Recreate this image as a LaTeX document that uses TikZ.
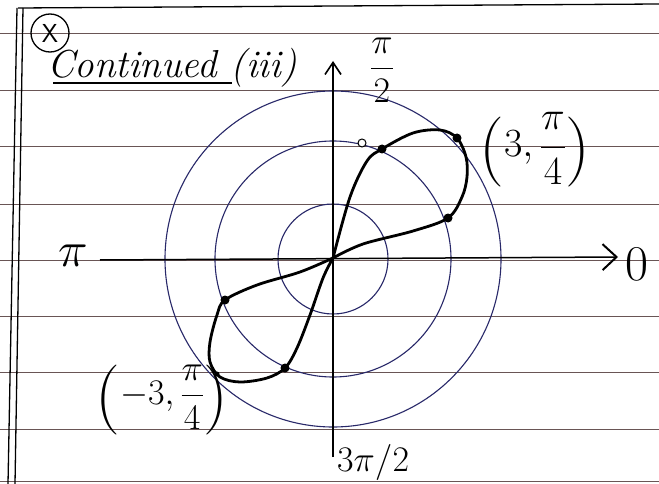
\RequirePackage{fix-cm}
\documentclass[tikz,border=0pt]{standalone}
\usetikzlibrary{arrows.meta}
\definecolor{rulec}{RGB}{105,85,85}
\definecolor{navy}{RGB}{40,40,105}
\newcommand\myparen[1]{\raisebox{-13pt}{\fontsize{70}{70}\selectfont #1}}
\begin{document}
\begin{tikzpicture}[x=1pt,y=-1pt,
  rule/.style={draw=rulec,line width=0.9pt},
  border/.style={draw=black,line width=1.3pt},
  axis/.style={draw=black,line width=1.5pt},
  circ/.style={draw=navy,line width=1.1pt},
  curve/.style={draw=black,line width=2.8pt,line join=round,line cap=round},
  dot/.style={circle,fill=black,inner sep=0pt,minimum size=9pt},
  opendot/.style={circle,draw=black,fill=white,line width=1pt,inner sep=0pt,minimum size=8pt},
  lbl/.style={font=\fontsize{36}{40}\selectfont,inner sep=1pt},
  big/.style={font=\fontsize{50}{54}\selectfont,inner sep=1pt},
  ttl/.style={font=\fontsize{39}{42}\selectfont\itshape,inner sep=0pt}]
\useasboundingbox (0,0) rectangle (659,484);
\fill[white] (0,0) rectangle (659,484);
% ruled paper
\foreach \yy in {33,90,146,204,260,316,372,429,481}
  \draw[rule] (0,\yy) -- (659,\yy);
\draw[border] (18,8) -- (659,4);
\draw[border] (17,8) -- (8,484);
\draw[border] (23,8) -- (15,484);
% header
\node[circle,draw=black,line width=1.3pt,minimum size=38pt,inner sep=0pt,font=\fontsize{26}{26}\selectfont\sffamily] (xmark) at (50,33) {X};
\node[ttl,anchor=base west] (title) at (47,78) {Continued\ (iii)};
\draw[black,line width=1.6pt] (title.south west |- 0,83) ++(6,0) -- (232,83);
% circles
\coordinate (O) at (333,259);
\draw[circ] (O) circle[radius=55pt];
\draw[circ] (O) circle[radius=118pt];
\draw[circ] (O) circle[radius=168pt];
% axes
\coordinate (W) at (100,260);
\coordinate (E) at (618,257);
\coordinate (N) at (333,61);
\coordinate (S) at (333,457);
\draw[axis,-{Straight Barb[length=14pt,width=26pt,line width=2pt]}] (W) -- (E);
\draw[axis,-{Straight Barb[length=12pt,width=16pt,line width=1.6pt]}] (S) -- (N);
% curve
\draw[curve] plot[smooth,tension=0.55] coordinates {(333,258) (363,244) (413,231) (448,218) (462,197) (467,177) (466,157) (457,138) (440,130) (413,133) (382,149) (367,161) (350,197) (333,258)};
\draw[curve] plot[smooth,tension=0.55] coordinates {(333,258) (300,272) (257,285) (225,300) (217,315) (210,342) (210,362) (220,377) (240,382) (267,378) (285,368) (297,348) (310,315) (323,278) (333,258)};
% points
\node[dot] (p1) at (457,138) {};
\node[dot] (p2) at (382,149) {};
\node[dot] (p3) at (448,218) {};
\node[dot] (p4) at (225,300) {};
\node[dot] (p5) at (285,368) {};
\node[dot,minimum size=5pt] (p6) at (217,374) {};
\node[opendot] (q1) at (362,143) {};
% labels
\node[lbl] (lhalf) at (382,70) {$\displaystyle\frac{\pi}{2}$};
\node[big] (lpi) at (73,256) {$\pi$};
\node[big] (lzero) at (637,264) {$0$};
\node[lbl,font=\fontsize{40}{44}\selectfont] (lthree) at (535,150) {\myparen{(}$3,\displaystyle\frac{\pi}{4}$\myparen{)}};
\node[lbl] (lmthree) at (162,400) {\myparen{(}$-3,\displaystyle\frac{\pi}{4}$\myparen{)}};
\node[lbl,anchor=west] (lthreehalf) at (336,462) {$3\pi/2$};
\end{tikzpicture}
\end{document}
